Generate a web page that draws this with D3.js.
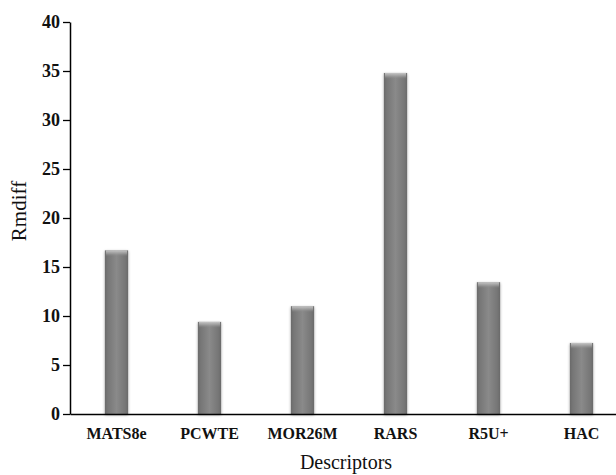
<!DOCTYPE html>
<html>
<head>
<meta charset="utf-8">
<script src="https://cdn.jsdelivr.net/npm/d3@7"></script>
<style>
html,body{margin:0;padding:0;background:#fff;}
svg{display:block;}
</style>
</head>
<body>
<script>
const categories = ["MATS8e", "PCWTE", "MOR26M", "RARS", "R5U+", "HAC"];
const values = [16.7, 9.4, 11.0, 34.8, 13.45, 7.25];
const yTicks = [0, 5, 10, 15, 20, 25, 30, 35, 40];

const W = 616, H = 475;
const svg = d3.select("body").append("svg").attr("width", W).attr("height", H);
const defs = svg.append("defs");

const g1 = defs.append("linearGradient").attr("id", "barGrad").attr("x1", "0%").attr("x2", "100%").attr("y1", "0%").attr("y2", "0%");
[[0, "#6a6a6a"], [0.12, "#767676"], [0.5, "#8a8a8a"], [0.88, "#767676"], [1, "#6a6a6a"]]
  .forEach(([o, c]) => g1.append("stop").attr("offset", o).attr("stop-color", c));

const g2 = defs.append("linearGradient").attr("id", "topGrad").attr("x1", "0%").attr("x2", "0%").attr("y1", "0%").attr("y2", "100%");
[[0, "#c8c8c8", 1], [0.5, "#a8a8a8", 0.7], [1, "#8a8a8a", 0]]
  .forEach(([o, c, a]) => g2.append("stop").attr("offset", o).attr("stop-color", c).attr("stop-opacity", a));

const f = defs.append("filter").attr("id", "shadow").attr("x", "-30%").attr("y", "-5%").attr("width", "160%").attr("height", "110%");
f.append("feGaussianBlur").attr("in", "SourceAlpha").attr("stdDeviation", 1.8).attr("result", "b");
f.append("feOffset").attr("in", "b").attr("dx", 0).attr("dy", 1).attr("result", "o");
f.append("feComponentTransfer").attr("in", "o").attr("result", "s")
  .append("feFuncA").attr("type", "linear").attr("slope", 0.35);
const m = f.append("feMerge");
m.append("feMergeNode").attr("in", "s");
m.append("feMergeNode").attr("in", "SourceGraphic");

const x = d3.scaleBand().domain(categories).range([70, 628]).paddingInner(0.75).paddingOuter(0.375);
const y = d3.scaleLinear().domain([0, 40]).range([414, 22]);

// bars
const bars = svg.append("g");
categories.forEach((c, i) => {
  const bx = x(c), bw = x.bandwidth(), by = y(values[i]), bh = y(0) - y(values[i]);
  bars.append("rect").attr("x", bx).attr("y", by).attr("width", bw).attr("height", bh)
    .attr("fill", "url(#barGrad)").attr("filter", "url(#shadow)");
  bars.append("rect").attr("x", bx + 1).attr("y", by).attr("width", bw - 2).attr("height", 6)
    .attr("fill", "url(#topGrad)");
});

// y axis
const yAxis = svg.append("g").attr("transform", "translate(70,0)")
  .call(d3.axisLeft(y).tickValues(yTicks).tickSize(7).tickSizeOuter(0).tickPadding(3));
yAxis.select(".domain").attr("stroke", "#000").attr("stroke-width", 1.5);
yAxis.selectAll(".tick line").attr("stroke", "#000").attr("stroke-width", 1.3);
yAxis.selectAll("text").attr("font-family", "'Liberation Serif', 'Times New Roman', serif")
  .attr("font-weight", "bold").attr("font-size", 18).attr("fill", "#111");

// x axis
const xAxis = svg.append("g").attr("transform", "translate(0,414)")
  .call(d3.axisBottom(x).tickSize(0).tickPadding(14));
xAxis.select(".domain").attr("stroke", "#000").attr("stroke-width", 1.5);
xAxis.selectAll("text").attr("font-family", "'Liberation Serif', 'Times New Roman', serif")
  .attr("font-weight", "bold").attr("font-size", 16).attr("fill", "#111");

// titles
svg.append("text").attr("x", 346).attr("y", 469).attr("text-anchor", "middle")
  .attr("font-family", "'Liberation Serif', 'Times New Roman', serif").attr("font-size", 20).attr("fill", "#111")
  .text("Descriptors");
svg.append("text").attr("transform", "translate(26,211) rotate(-90)").attr("text-anchor", "middle")
  .attr("font-family", "'Liberation Serif', 'Times New Roman', serif").attr("font-size", 21).attr("fill", "#111")
  .text("Rmdiff");
</script>
</body>
</html>
